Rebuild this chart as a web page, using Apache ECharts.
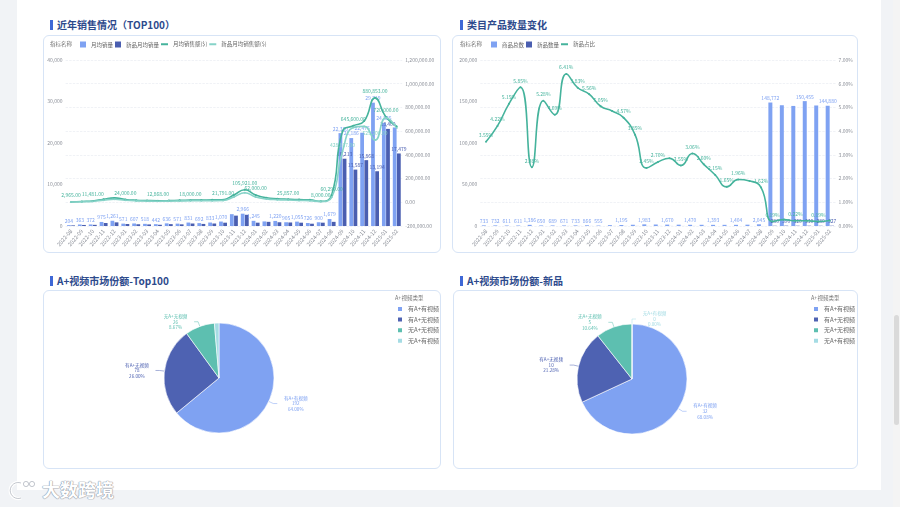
<!DOCTYPE html>
<html>
<head>
<meta charset="utf-8">
<script src="https://cdn.jsdelivr.net/npm/echarts@6/dist/echarts.min.js"></script>
<style>
  html, body { margin:0; padding:0; }
  body { width:900px; height:507px; position:relative; overflow:hidden; background:#F1F3F6;
         font-family:"Noto Sans CJK SC","Noto Sans",sans-serif; }
  .panel { position:absolute; left:17px; top:0; width:864px; height:490px; background:#fff; }
  .card { position:absolute; border:1px solid #D7E4F6; border-radius:6px; background:#fff; box-sizing:border-box; }
  .title { position:absolute; font-size:10px; font-weight:700; color:#2D4A8C; line-height:12px; white-space:nowrap; }
  .title::before { content:""; position:absolute; left:-7px; top:1px; width:2.5px; height:10px; background:#3F68D6; }
  .chart { position:absolute; }
  .logo { position:absolute; left:8px; top:478px; height:24px; width:130px; }
  .logo span { position:absolute; left:34px; top:0; font-size:18px; line-height:22px; color:#fff; font-weight:700; white-space:nowrap;
               text-shadow:0 0 1px #8f96a3, 0 0 1px #8f96a3, 0 0 1px #8f96a3; }
  .sb { position:absolute; left:893px; top:0; width:7px; height:507px; background:#F4F4F4; }
  .sbt { position:absolute; left:894px; top:315px; width:5px; height:110px; background:#DADADA; border-radius:3px; }
</style>
</head>
<body>
<div class="panel"></div>

<div class="title" style="left:57px;top:19px;">近年销售情况（TOP100）</div>
<div class="title" style="left:467px;top:19px;">类目产品数量变化</div>
<div class="title" style="left:57px;top:275px;">A+视频市场份额-Top100</div>
<div class="title" style="left:467px;top:275px;">A+视频市场份额-新品</div>

<div class="card" style="left:43px;top:35px;width:398px;height:218px;"></div>
<div class="card" style="left:452px;top:35px;width:406px;height:218px;"></div>
<div class="card" style="left:43px;top:290px;width:398px;height:179px;"></div>
<div class="card" style="left:453px;top:290px;width:405px;height:179px;"></div>

<div id="c1" class="chart" style="left:43px;top:35px;width:398px;height:218px;"></div>
<div id="c2" class="chart" style="left:452px;top:35px;width:406px;height:218px;"></div>
<div id="c3" class="chart" style="left:43px;top:290px;width:398px;height:179px;"></div>
<div id="c4" class="chart" style="left:453px;top:290px;width:405px;height:179px;"></div>

<div class="logo">
  <svg width="32" height="24" viewBox="0 0 32 24" style="position:absolute;left:0;top:0">
    <path d="M13 5 A8 8 0 1 0 13 20" fill="none" stroke="#fff" stroke-width="3.2"/>
    <path d="M13 5 A8 8 0 1 0 13 20" fill="none" stroke="#9aa1ad" stroke-width="0.6"/>
    <circle cx="18" cy="6" r="2.6" fill="#fff" stroke="#9aa1ad" stroke-width="0.6"/>
    <circle cx="24" cy="6" r="2.6" fill="#fff" stroke="#9aa1ad" stroke-width="0.6"/>
  </svg>
  <span>大数跨境</span>
</div>
<div class="sb"></div><div class="sbt"></div>

<script>
// ---------------- data ----------------
const months = ['2022-08','2022-09','2022-10','2022-11','2022-12','2023-01','2023-02','2023-03','2023-04','2023-05','2023-06','2023-07','2023-08','2023-09','2023-10','2023-11','2023-12','2024-01','2024-02','2024-03','2024-04','2024-05','2024-06','2024-07','2024-08','2024-09','2024-10','2024-11','2024-12','2025-01','2025-02'];

// chart 1: 近年销售情况（TOP100）
const avgSalesQty    = [204,363,372,975,1261,571,607,518,442,636,571,831,692,833,1070,2850,2966,1245,1100,1220,905,1055,726,900,1679,22380,21186,22475,29719,24825,23742];
const newAvgSalesQty = [150,250,280,720,880,480,420,380,300,450,400,600,500,600,800,2500,2700,800,1000,900,850,800,550,800,1000,16213,13587,15868,13194,23400,17479];
const avgSalesAmt    = [2965,7200,11481,26000,36789,24000,17411,14500,12868,14200,16520,18000,19287,20500,21791,62000,105921,62000,37551,30000,25857,22500,20340,8000,60290,596300,645600,685200,880853,720000,640000];
const newAvgSalesAmt = [2000,5000,8000,18000,26000,17000,12000,10000,9000,10000,11500,12500,13500,14000,15000,45000,80000,45000,28000,22000,19000,16000,14000,6000,42000,428817,630000,640000,525200,713528,626102];

// chart 2: 类目产品数量变化
const totalProducts = [733,732,611,611,1386,650,689,671,733,866,555,1050,1195,1500,1983,1800,1670,1600,1470,1450,1393,1400,1404,1600,2045,148772,145500,144668,150455,145200,144880];
const newProducts   = [26,31,32,36,34,34,32,43,43,48,28,51,55,58,49,49,48,41,45,38,30,23,28,30,33,280,390,320,330,280,327];
const newRatio      = [3.55,4.22,5.15,5.85,2.48,5.28,4.69,6.41,5.83,5.56,5.05,4.85,4.57,3.85,2.45,2.70,2.86,2.55,3.06,2.60,2.15,1.65,1.96,1.90,1.62,0.19,0.27,0.22,0.22,0.19,0.23];

// pies
const videoTypes  = ['有A+有视频','有A+无视频','无A+无视频','无A+有视频'];
const shareTop100 = [192,78,26,4];
const shareNew    = [32,10,5,0];

// ---------------- helpers ----------------
const sep = s => s.replace(/\B(?=(\d{3})+(?!\d))/g, ',');
const fmtInt = v => (v < 0 ? '-' : '') + sep(String(Math.round(Math.abs(v))));
const fmt2 = v => { const p = Math.abs(v).toFixed(2).split('.'); return (v < 0 ? '-' : '') + sep(p[0]) + '.' + p[1]; };
const fmtPct = v => Number(v).toFixed(2) + '%';

const C_LIGHT = '#7FA2F2', C_DARK = '#4A5EB0', C_TEAL = '#45B39C', C_TEAL2 = '#86D3C8';
const PIE_COLORS = ['#7FA2F2', '#4E62B2', '#5DBFB0', '#A5DCE4'];
const FONT = '"Noto Sans CJK SC", "Noto Sans", sans-serif';
const axisText = { fontSize:5, color:'#8C9099', fontFamily:FONT };
const legendText = { fontSize:5.5, color:'#666', fontFamily:FONT };

function barSeries(name, data, color, yIdx) {
  return { name, type:'bar', data, yAxisIndex:yIdx, itemStyle:{ color },
    label:{ show:true, position:'top', distance:2, fontSize:5, color, fontFamily:FONT, formatter:p => fmtInt(p.value) },
    labelLayout:{ hideOverlap:true } };
}
function lineSeries(name, data, color, yIdx, fmt) {
  return { name, type:'line', smooth:true, data, yAxisIndex:yIdx, symbol:'circle', symbolSize:2, showSymbol:true,
    itemStyle:{ color }, lineStyle:{ color, width:1.6 }, z:5,
    label:{ show:true, position:'top', distance:3, fontSize:5, color, fontFamily:FONT, formatter:p => fmt(p.value) },
    labelLayout:{ hideOverlap:true } };
}
function xAxisCfg() {
  return { type:'category', data:months, axisTick:{ show:false }, axisLine:{ show:false },
    axisLabel:{ ...axisText, fontSize:5.5, rotate:50, interval:0, margin:4 } };
}
function legends(leftA, dataA, leftB, dataB) {
  return [
    { left:leftA, top:6.5, padding:0, itemWidth:6, itemHeight:6, itemGap:2, icon:'rect', textStyle:legendText, data:dataA },
    { left:leftB, top:6.5, padding:0, itemWidth:7, itemHeight:2, itemGap:2, icon:'rect', textStyle:legendText, data:dataB }
  ];
}

// ---------------- chart 1 ----------------
const c1 = echarts.init(document.getElementById('c1'), null, { renderer:'canvas' });
c1.setOption({
  animation:false,
  textStyle:{ fontFamily:FONT },
  graphic:[{ type:'text', left:7, top:6.5, style:{ text:'指标名称', fontSize:5.5, fill:'#777', fontFamily:FONT } }],
  legend: legends(37, ['月均销量','新品月均销量'], 118, ['月均销售额($)','新品月均销售额($)']),
  grid:{ left:22.6, right:38.8, top:25, bottom:27, outerBoundsMode:'none' },
  xAxis: xAxisCfg(),
  yAxis:[
    { type:'value', min:0, max:40000, interval:10000, position:'left',
      axisLabel:{ ...axisText, formatter:fmtInt, margin:3 }, splitLine:{ show:false }, axisLine:{ show:false }, axisTick:{ show:false } },
    { type:'value', min:-200000, max:1200000, interval:200000, position:'right',
      axisLabel:{ ...axisText, formatter:fmt2, margin:3 }, axisLine:{ show:false }, axisTick:{ show:false },
      splitLine:{ lineStyle:{ color:'#E6EAF0', type:'dashed', width:0.6 } } }
  ],
  series:[
    barSeries('月均销量', avgSalesQty, C_LIGHT, 0),
    barSeries('新品月均销量', newAvgSalesQty, C_DARK, 0),
    lineSeries('月均销售额($)', avgSalesAmt, C_TEAL, 1, fmt2),
    lineSeries('新品月均销售额($)', newAvgSalesAmt, C_TEAL2, 1, fmt2)
  ]
});

// ---------------- chart 2 ----------------
const c2 = echarts.init(document.getElementById('c2'), null, { renderer:'canvas' });
c2.setOption({
  animation:false,
  textStyle:{ fontFamily:FONT },
  graphic:[{ type:'text', left:8, top:6.5, style:{ text:'指标名称', fontSize:5.5, fill:'#777', fontFamily:FONT } }],
  legend: legends(39, ['商品总数','新品数量'], 109, ['新品占比']),
  grid:{ left:28.3, right:22.4, top:25, bottom:27, outerBoundsMode:'none' },
  xAxis: xAxisCfg(),
  yAxis:[
    { type:'value', min:0, max:200000, interval:50000, position:'left',
      axisLabel:{ ...axisText, formatter:fmtInt, margin:3 }, splitLine:{ show:false }, axisLine:{ show:false }, axisTick:{ show:false } },
    { type:'value', min:0, max:7, interval:1, position:'right',
      axisLabel:{ ...axisText, formatter:fmtPct, margin:3 }, axisLine:{ show:false }, axisTick:{ show:false },
      splitLine:{ lineStyle:{ color:'#E6EAF0', type:'dashed', width:0.6 } } }
  ],
  series:[
    barSeries('商品总数', totalProducts, C_LIGHT, 0),
    barSeries('新品数量', newProducts, C_DARK, 0),
    lineSeries('新品占比', newRatio, C_TEAL, 1, fmtPct)
  ]
});

// ---------------- pies ----------------
function pieOption(values, center, legendLeft, startAngle, minLabelAngle) {
  return {
    animation:false,
    color:PIE_COLORS,
    textStyle:{ fontFamily:FONT },
    graphic:[{ type:'text', left:legendLeft - 1, top:5, style:{ text:'A+视频类型', fontSize:5.5, fill:'#777', fontFamily:FONT } }],
    legend:{ orient:'vertical', left:legendLeft, top:15, padding:0, itemWidth:6, itemHeight:6, itemGap:2.6, icon:'rect',
      textStyle:{ ...legendText, fontSize:6 }, data:videoTypes },
    series:[{
      type:'pie', radius:55, center, startAngle, clockwise:true, minShowLabelAngle:minLabelAngle,
      data: videoTypes.map((n, i) => ({ name:n, value:values[i] })),
      itemStyle:{ borderColor:'#fff', borderWidth:0.6 },
      label:{ show:true, color:'inherit', fontFamily:FONT,
        formatter: p => '{t|' + p.name + '}\n{t|' + p.value + '}\n{t|' + p.percent.toFixed(2) + '%}',
        rich:{ t:{ fontSize:4.6, lineHeight:5.6, width:27, align:'center', fontFamily:FONT } } },
      labelLine:{ show:true, length:5, length2:4, lineStyle:{ width:0.5 } },
      labelLayout:{ hideOverlap:true }
    }]
  };
}
const c3 = echarts.init(document.getElementById('c3'), null, { renderer:'canvas' });
c3.setOption(pieOption(shareTop100, [176, 88], 353, 90, 6));
const c4 = echarts.init(document.getElementById('c4'), null, { renderer:'canvas' });
c4.setOption(pieOption(shareNew, [179, 89], 359, 89.99, 0));
</script>
</body>
</html>
